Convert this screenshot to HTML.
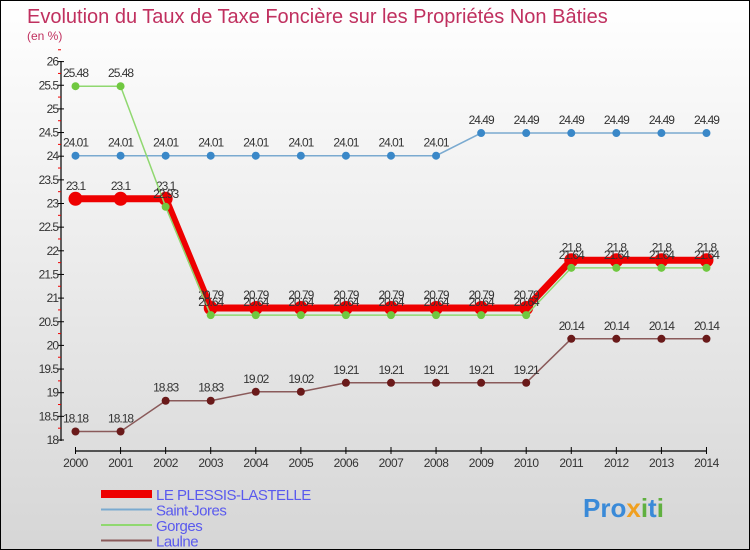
<!DOCTYPE html>
<html><head><meta charset="utf-8"><style>
body{margin:0;}
#c{width:748px;height:548px;border:1px solid #000;background:linear-gradient(#ffffff,#d6d6d6);position:relative;overflow:hidden;font-family:"Liberation Sans",sans-serif;}
</style></head><body>
<div id="c">
<svg id="s" width="748" height="548" xmlns="http://www.w3.org/2000/svg"></svg>
</div>
<script>
const years=[2000,2001,2002,2003,2004,2005,2006,2007,2008,2009,2010,2011,2012,2013,2014];
const plessis=[23.1,23.1,23.1,20.79,20.79,20.79,20.79,20.79,20.79,20.79,20.79,21.8,21.8,21.8,21.8];
const saintJores=[24.01,24.01,24.01,24.01,24.01,24.01,24.01,24.01,24.01,24.49,24.49,24.49,24.49,24.49,24.49];
const gorges=[25.48,25.48,22.93,20.64,20.64,20.64,20.64,20.64,20.64,20.64,20.64,21.64,21.64,21.64,21.64];
const laulne=[18.18,18.18,18.83,18.83,19.02,19.02,19.21,19.21,19.21,19.21,19.21,20.14,20.14,20.14,20.14];
const yTicks=[18,18.5,19,19.5,20,20.5,21,21.5,22,22.5,23,23.5,24,24.5,25,25.5,26];
const ns="http://www.w3.org/2000/svg";
const s=document.getElementById('s');
const X=i=>74.5+i*45.07;
const Y=v=>439-(v-18)*47.3;
function el(t,a,p){const e=document.createElementNS(ns,t);for(const k in a)e.setAttribute(k,a[k]);(p||s).appendChild(e);return e;}
const title=el('text',{x:26,y:22,'font-size':20,fill:'#c0305f'});title.textContent='Evolution du Taux de Taxe Foncière sur les Propriétés Non Bâties';


const sub=el('text',{x:26,y:39,'font-size':12,fill:'#c0305f'});sub.textContent='(en %)';


const ya=el('line',{x1:60,y1:60,x2:60,y2:440,stroke:'#000','stroke-width':1.2});


yTicks.forEach(v=>{
 el('line',{x1:57,y1:Y(v),x2:63,y2:Y(v),stroke:'#000'});
 el('line',{x1:57,y1:Y(v+0.25),x2:60,y2:Y(v+0.25),stroke:'#e00'});
 const t=el('text',{x:57,y:Y(v)+4,'font-size':12,'text-anchor':'end',fill:'#333','letter-spacing':'-1'});t.textContent=v;
 
 
});
const xa=el('line',{x1:X(0),y1:450,x2:X(14),y2:450,stroke:'#000','stroke-width':1.2});


years.forEach((y,i)=>{
 el('line',{x1:X(i),y1:446,x2:X(i),y2:453,stroke:'#000'});
 const t=el('text',{x:X(i),y:466,'font-size':12,'text-anchor':'middle',fill:'#333','letter-spacing':'-0.5'});t.textContent=y;
 
 
});
function series(data,color,w,r,dot,name,lab){
 const g=el('g',{});
 
 
 el('polyline',{points:data.map((v,i)=>X(i)+','+Y(v)).join(' '),fill:'none',stroke:color,'stroke-width':w},g);
 data.forEach((v,i)=>{
  const c=el('circle',{cx:X(i),cy:Y(v),r:r,fill:dot},g);
  
  
  const t=el('text',{x:X(i),y:Y(v)-9,'font-size':12,'text-anchor':'middle',fill:'#333','letter-spacing':'-1'},g);t.textContent=v;
 });
}
series(laulne,'#8a5a5a',1.5,4,'#6a1a1a','series-laulne');
series(saintJores,'#7aaad0',1.5,4,'#3a88c8','series-saint-jores');
series(plessis,'#ee0000',7,7,'#ee0000','series-le-plessis-lastelle');
series(gorges,'#90d870',1.5,4,'#70c840','series-gorges');
const leg=[['LE PLESSIS-LASTELLE','#ee0000',8],['Saint-Jores','#7aaad0',2],['Gorges','#90d870',2],['Laulne','#8a5a5a',2]];
leg.forEach((l,i)=>{
 const y=493+i*15.5;
 const g=el('g',{});
 
 
 el('line',{x1:100,y1:y,x2:151,y2:y,stroke:l[1],'stroke-width':l[2]},g);
 const t=el('text',{x:155,y:y+6,'font-size':15,fill:'#5a5aee','letter-spacing':'-0.5'},g);t.textContent=l[0];
});
const logo=el('text',{x:582,y:516,'font-size':26,'font-weight':'bold',fill:'#3a8ad8'});
logo.innerHTML='Pro<tspan fill="#f0a020">x</tspan><tspan fill="#60b040">i</tspan>t<tspan fill="#60b040">i</tspan>';


</script>
</body></html>
